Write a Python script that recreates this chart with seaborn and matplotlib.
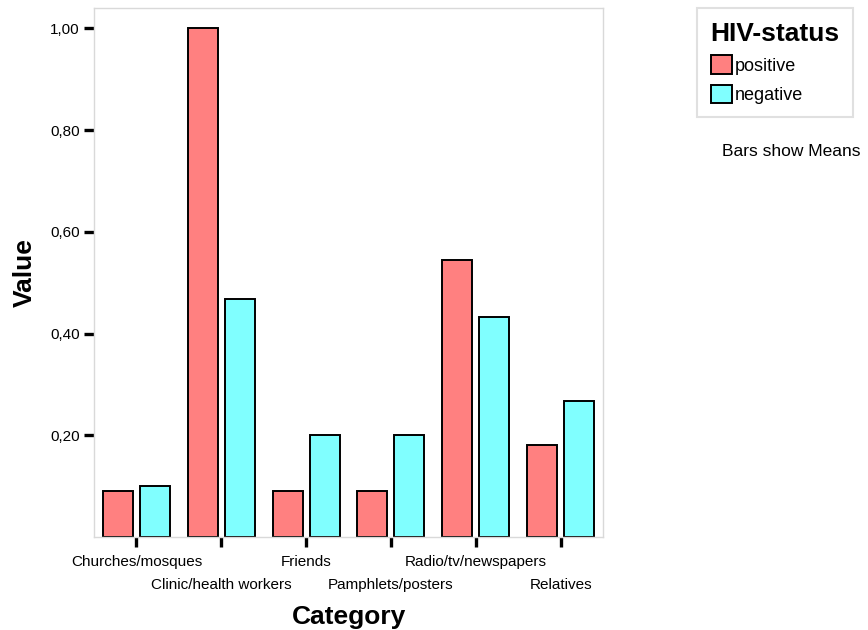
import matplotlib
matplotlib.use("Agg")
import matplotlib.pyplot as plt
from matplotlib.transforms import ScaledTranslation
import seaborn as sns
import pandas as pd

categories = ["Churches/mosques", "Clinic/health workers", "Friends",
              "Pamphlets/posters", "Radio/tv/newspapers", "Relatives"]
positive = [0.09, 1.00, 0.09, 0.09, 0.545, 0.18]
negative = [0.10, 0.467, 0.20, 0.20, 0.433, 0.267]
statuses = ["positive", "negative"]
colors = ["#FF8080", "#80FFFF"]
y_ticks = [0.20, 0.40, 0.60, 0.80, 1.00]

df = pd.DataFrame({
    "Category": categories * 2,
    "Value": positive + negative,
    "HIV-status": ["positive"] * len(categories) + ["negative"] * len(categories),
})

sns.set_style("white")
plt.rcParams["font.family"] = ["Liberation Sans", "DejaVu Sans"]
plt.rcParams.update({"text.color": "black", "axes.labelcolor": "black",
                     "xtick.color": "black", "ytick.color": "black"})

fig = plt.figure(figsize=(8.68, 6.3), dpi=100)
ax = fig.add_axes([0.1083, 0.1476, 0.5864, 0.8397])

sns.barplot(data=df, x="Category", y="Value", hue="HIV-status",
            hue_order=statuses, palette=colors, order=categories,
            width=0.872, gap=0.19, edgecolor="black", linewidth=1.4,
            saturation=1, errorbar=None, ax=ax, legend=False)

ax.set_xlim(-0.5, 5.5)
ax.set_ylim(0, 1.04)
ax.set_yticks(y_ticks)
ax.set_yticklabels([f"{v:.2f}".replace(".", ",") for v in y_ticks], fontsize=11)
ax.set_xticks(range(len(categories)))
ax.set_xticklabels(categories, fontsize=11)
ax.tick_params(axis="y", direction="out", length=7.2, width=2.4, pad=3, left=True)
ax.tick_params(axis="x", direction="out", length=7.2, width=2.4, pad=6, bottom=True)

# staggered category labels: every second one drops to a lower row
for i, lab in enumerate(ax.get_xticklabels()):
    if i % 2 == 1:
        lab.set_transform(lab.get_transform() + ScaledTranslation(0, -16 / 72, fig.dpi_scale_trans))

for s in ax.spines.values():
    s.set_color("#d9d9d9")
    s.set_linewidth(1)

ax.set_xlabel("Category", fontsize=19, fontweight="bold")
ax.xaxis.set_label_coords(0.5, -0.129)
ax.set_ylabel("Value", fontsize=19, fontweight="bold", labelpad=10)

handles = [plt.Rectangle((0, 0), 1, 1, facecolor=c, edgecolor="black", linewidth=1.4) for c in colors]
leg = fig.legend(handles, statuses, title="HIV-status", loc="upper left",
                 bbox_to_anchor=(697 / 868, 1 - 8 / 630), borderaxespad=0, frameon=True,
                 fontsize=13, title_fontproperties={"weight": "bold", "size": 19},
                 handlelength=1.17, handleheight=1.17, handletextpad=0.15,
                 labelspacing=0.55, borderpad=0.75, fancybox=False,
                 alignment="left")
leg.get_frame().set_edgecolor("#d9d9d9")
leg.get_frame().set_linewidth(1.5)

fig.text(791 / 868, 1 - 152 / 630, "Bars show Means", ha="center", va="center", fontsize=12.5)

fig.savefig("out.png", dpi=100)
